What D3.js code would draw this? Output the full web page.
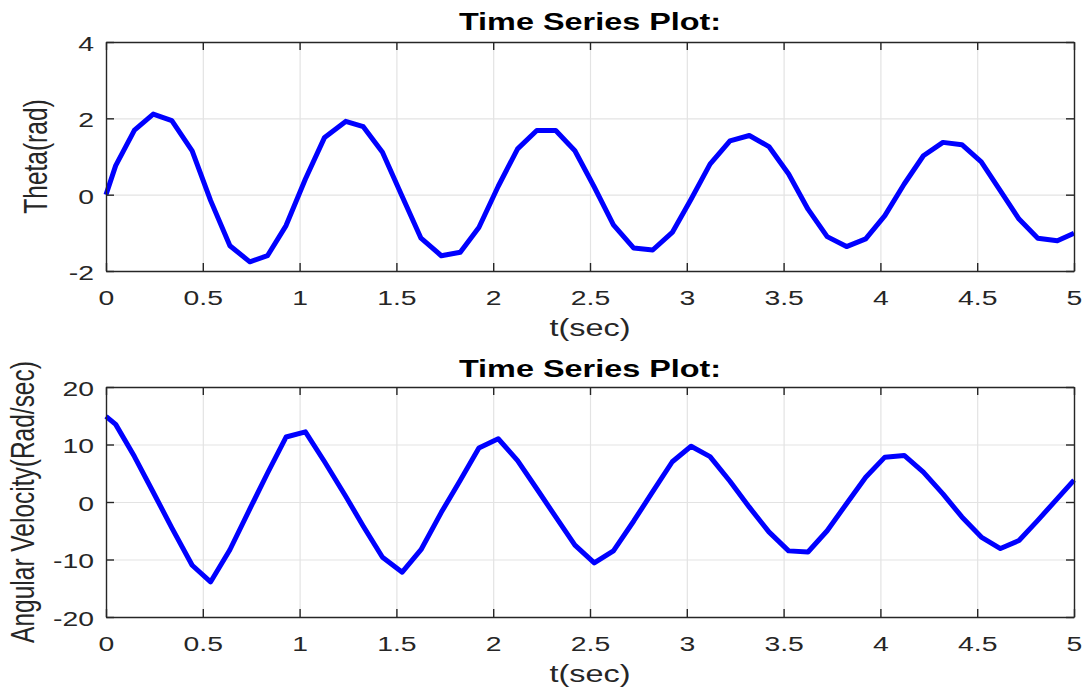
<!DOCTYPE html>
<html>
<head>
<meta charset="utf-8">
<script src="https://cdn.jsdelivr.net/npm/d3@7"></script>
<style>
  html, body { margin: 0; padding: 0; background: #fff; }
  svg { display: block; }
</style>
</head>
<body>
<script>
// Solver output: time samples shared by both states
const time = [0, 0.05, 0.147, 0.244, 0.34, 0.445, 0.54, 0.64, 0.743, 0.834, 0.93, 1.03,
  1.129, 1.238, 1.329, 1.428, 1.53, 1.627, 1.732, 1.83, 1.926, 2.026, 2.126, 2.225,
  2.323, 2.422, 2.522, 2.621, 2.726, 2.824, 2.925, 3.022, 3.12, 3.223, 3.323, 3.424,
  3.526, 3.626, 3.725, 3.825, 3.924, 4.023, 4.123, 4.222, 4.323, 4.421, 4.521, 4.62,
  4.716, 4.813, 4.914, 5.0];

// Pendulum angle (rad)
const theta = [0, 0.76, 1.69, 2.11, 1.94, 1.15, -0.15, -1.34, -1.76, -1.60, -0.81, 0.41,
  1.50, 1.92, 1.78, 1.11, -0.05, -1.14, -1.60, -1.51, -0.86, 0.22, 1.20, 1.68,
  1.68, 1.15, 0.20, -0.79, -1.40, -1.45, -0.99, -0.12, 0.80, 1.41, 1.55, 1.26,
  0.54, -0.38, -1.10, -1.36, -1.16, -0.55, 0.28, 1.02, 1.37, 1.31, 0.86, 0.10,
  -0.64, -1.14, -1.21, -1.01];

// Angular velocity (rad/s)
const omega = [14.9, 13.5, 7.9, 1.7, -4.5, -11.0, -13.9, -8.3, -1.2, 5.0, 11.3, 12.2,
  7.0, 1.0, -4.2, -9.6, -12.2, -8.3, -1.8, 3.8, 9.4, 11.0, 7.2, 2.3,
  -2.6, -7.5, -10.6, -8.5, -3.3, 1.8, 7.0, 9.7, 7.9, 3.6, -0.9, -5.2,
  -8.5, -8.7, -5.0, -0.3, 4.3, 7.8, 8.1, 5.2, 1.4, -2.6, -6.1, -8.1,
  -6.7, -3.2, 0.6, 3.8];

const timeTicks = [0, 0.5, 1, 1.5, 2, 2.5, 3, 3.5, 4, 4.5, 5];
const thetaTicks = [-2, 0, 2, 4];
const omegaTicks = [-20, -10, 0, 10, 20];

const W = 1091, H = 692;
const SX = 1.35;               // horizontal text stretch of the figure
const FONT = "'Liberation Sans', Arial, Helvetica, sans-serif";
const AXIS_COLOR = "#262626";
const GRID_COLOR = "#e3e3e3";
const plain = d => String(d);  // ASCII hyphen for negatives

const svg = d3.select("body").append("svg")
  .attr("width", W).attr("height", H)
  .style("background", "#fff");

const x = d3.scaleLinear().domain([0, 5]).range([106, 1074]);

function stretchedText(parent, tx, ty, str, opts) {
  return parent.append("text")
    .attr("transform", `translate(${tx},${ty}) ${opts.rotate ? "rotate(-90) scale(1," + SX + ")" : "scale(" + SX + ",1)"}`)
    .attr("text-anchor", "middle")
    .attr("font-family", FONT)
    .attr("font-size", opts.size)
    .attr("font-weight", opts.bold ? "bold" : "normal")
    .attr("fill", opts.color)
    .text(str);
}

function panel(cfg) {
  const y = d3.scaleLinear().domain(cfg.domain).range([cfg.bottom, cfg.top]);
  const g = svg.append("g");
  const plotH = cfg.bottom - cfg.top;
  const plotW = x.range()[1] - x.range()[0];

  // grid lines
  g.append("g")
    .attr("transform", `translate(0,${cfg.bottom})`)
    .call(d3.axisBottom(x).tickValues(timeTicks).tickSize(-plotH).tickFormat(""))
    .call(s => { s.select(".domain").remove(); s.selectAll("line").attr("stroke", GRID_COLOR).attr("stroke-width", 1.2); });
  g.append("g")
    .attr("transform", `translate(${x.range()[0]},0)`)
    .call(d3.axisLeft(y).tickValues(cfg.ticks).tickSize(-plotW).tickFormat(""))
    .call(s => { s.select(".domain").remove(); s.selectAll("line").attr("stroke", GRID_COLOR).attr("stroke-width", 1.2); });

  // data line
  g.append("path")
    .datum(d3.zip(time, cfg.values))
    .attr("d", d3.line().x(d => x(d[0])).y(d => y(d[1])))
    .attr("fill", "none")
    .attr("stroke", "#0000ff")
    .attr("stroke-width", 5)
    .attr("stroke-linejoin", "round")
    .attr("stroke-linecap", "butt");

  // axes with inward ticks on all four sides
  const styleAxis = s => {
    s.select(".domain").attr("stroke", AXIS_COLOR).attr("stroke-width", 1.4);
    s.selectAll(".tick line").attr("stroke", AXIS_COLOR).attr("stroke-width", 1.4);
  };
  const bottomAxis = g.append("g")
    .attr("transform", `translate(0,${cfg.bottom})`)
    .call(d3.axisBottom(x).tickValues(timeTicks).tickSizeInner(-8).tickSizeOuter(0).tickFormat(plain))
    .call(styleAxis);
  bottomAxis.selectAll(".tick text")
    .attr("y", null).attr("dy", null)
    .attr("transform", `translate(0,34) scale(${SX},1)`)
    .attr("font-family", FONT).attr("font-size", 21).attr("fill", AXIS_COLOR);

  g.append("g")
    .attr("transform", `translate(0,${cfg.top})`)
    .call(d3.axisTop(x).tickValues(timeTicks).tickSizeInner(-8).tickSizeOuter(0).tickFormat(""))
    .call(styleAxis);

  const leftAxis = g.append("g")
    .attr("transform", `translate(${x.range()[0]},0)`)
    .call(d3.axisLeft(y).tickValues(cfg.ticks).tickSizeInner(-8).tickSizeOuter(0).tickFormat(plain))
    .call(styleAxis);
  leftAxis.selectAll(".tick text")
    .attr("x", null).attr("dy", "0.4em")
    .attr("text-anchor", "end")
    .attr("transform", `translate(-12,0) scale(${SX},1)`)
    .attr("font-family", FONT).attr("font-size", 21).attr("fill", AXIS_COLOR);

  g.append("g")
    .attr("transform", `translate(${x.range()[1]},0)`)
    .call(d3.axisRight(y).tickValues(cfg.ticks).tickSizeInner(-8).tickSizeOuter(0).tickFormat(""))
    .call(styleAxis);

  // title and axis labels
  const cx = (x.range()[0] + x.range()[1]) / 2;
  stretchedText(g, cx, cfg.titleY, "Time Series Plot:", { size: 24, bold: true, color: "#000" });
  stretchedText(g, cx, cfg.xlabelY, "t(sec)", { size: 24, color: AXIS_COLOR });
  stretchedText(g, cfg.ylabelX, (cfg.top + cfg.bottom) / 2, cfg.ylabel, { size: 24.5, color: AXIS_COLOR, rotate: true });
}

panel({
  top: 42, bottom: 271, domain: [-2, 4], ticks: thetaTicks, values: theta,
  titleY: 29.5, xlabelY: 336, ylabelX: 47, ylabel: "Theta(rad)"
});

panel({
  top: 387, bottom: 617, domain: [-20, 20], ticks: omegaTicks, values: omega,
  titleY: 377, xlabelY: 682, ylabelX: 34, ylabel: "Angular Velocity(Rad/sec)"
});
</script>
</body>
</html>
